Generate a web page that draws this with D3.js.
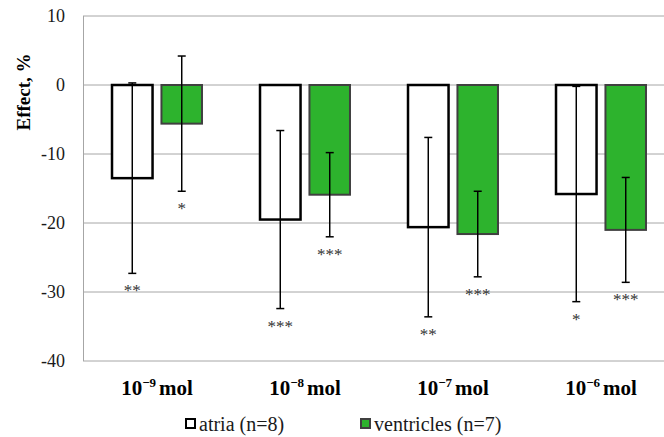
<!DOCTYPE html>
<html><head><meta charset="utf-8">
<script src="https://cdn.jsdelivr.net/npm/d3@7/dist/d3.min.js"></script>
<style>body{margin:0;background:#fff}svg{display:block}
svg text{font-family:"Liberation Serif","Times New Roman",serif}</style>
</head><body>
<svg id="c" width="664" height="437"></svg>
<script>
const categories = ["-9", "-8", "-7", "-6"];
const seriesNames = ["atria (n=8)", "ventricles (n=7)"];
const atria = [-13.5, -19.5, -20.6, -15.8];
const atriaSD = [13.8, 12.9, 13.0, 15.6];
const ventricles = [-5.6, -15.9, -21.6, -21.0];
const ventriclesSD = [9.8, 6.1, 6.2, 7.6];
const atriaStars = ["**", "***", "**", "*"];
const ventriclesStars = ["*", "***", "***", "***"];
const yTicks = [10, 0, -10, -20, -30, -40];

(function () {
const svg = d3.select("#c");
const pL = 83, pT = 16, pB = 361, pR = 675;
const y = d3.scaleLinear().domain([-40, 10]).range([pB, pT]);
const x = d3.scaleBand().domain(categories).range([pL, pR]).paddingInner(0.392).paddingOuter(0.196);
const xs = d3.scaleBand().domain([0, 1]).range([0, x.bandwidth()]).paddingInner(0.18);

// gridlines
svg.append("g").selectAll("line").data(yTicks).join("line")
  .attr("x1", pL).attr("x2", 664).attr("y1", d => y(d)).attr("y2", d => y(d))
  .attr("stroke", "#a6a6a6").attr("stroke-width", 1);
svg.append("line").attr("x1", pL + 0.5).attr("x2", pL + 0.5).attr("y1", pT).attr("y2", pB)
  .attr("stroke", "#a6a6a6");

// y axis labels
const yAxis = d3.axisLeft(y).tickValues(yTicks).tickSize(0).tickPadding(18).tickFormat(d => String(d));
const ga = svg.append("g").attr("transform", `translate(${pL},0)`).call(yAxis);
ga.select(".domain").remove();
ga.attr("font-family", null);
ga.selectAll("text").attr("font-size", 18).attr("fill", "#1a1a1a");

svg.append("text").attr("transform", "translate(30,92) rotate(-90)").attr("text-anchor", "middle")
  .attr("font-size", 19).attr("font-weight", "bold").attr("fill", "#000").text("Effect, %");

const series = [
  {vals: atria, sd: atriaSD, stars: atriaStars, fill: "#ffffff", stroke: "#000000", sw: 2.5},
  {vals: ventricles, sd: ventriclesSD, stars: ventriclesStars, fill: "#2db32d", stroke: "#404040", sw: 2}
];

series.forEach((s, si) => {
  const g = svg.append("g");
  const bx = i => x(categories[i]) + xs(si);
  const bw = xs.bandwidth();
  g.selectAll("rect").data(s.vals).join("rect")
    .attr("x", (d, i) => bx(i)).attr("width", bw)
    .attr("y", d => y(Math.max(0, d))).attr("height", d => Math.abs(y(d) - y(0)))
    .attr("fill", s.fill).attr("stroke", s.stroke).attr("stroke-width", s.sw);
  const eb = g.selectAll("g.eb").data(s.vals).join("g").attr("class", "eb");
  eb.append("line").attr("x1", (d, i) => bx(i) + bw / 2).attr("x2", (d, i) => bx(i) + bw / 2)
    .attr("y1", (d, i) => y(d + s.sd[i])).attr("y2", (d, i) => y(d - s.sd[i]))
    .attr("stroke", "#000").attr("stroke-width", 1.5);
  [1, -1].forEach(sg => {
    eb.append("line").attr("x1", (d, i) => bx(i) + bw / 2 - 4).attr("x2", (d, i) => bx(i) + bw / 2 + 4)
      .attr("y1", (d, i) => y(d + sg * s.sd[i])).attr("y2", (d, i) => y(d + sg * s.sd[i]))
      .attr("stroke", "#000").attr("stroke-width", 1.5);
  });
  g.selectAll("text.st").data(s.vals).join("text").attr("class", "st")
    .attr("x", (d, i) => bx(i) + bw / 2).attr("y", (d, i) => y(d - s.sd[i]) + 23)
    .attr("text-anchor", "middle").attr("font-size", 17)
    .attr("fill", "#333").text((d, i) => s.stars[i]);
});

// x labels
const xt = svg.append("g").selectAll("text").data(categories).join("text")
  .attr("x", d => x(d) + x.bandwidth() / 2).attr("y", 395).attr("text-anchor", "middle")
  .attr("font-size", 21).attr("font-weight", "bold").attr("fill", "#000");
xt.append("tspan").text("10");
xt.append("tspan").attr("font-size", 13).attr("dy", -8).text(d => d.replace("-", "\u2212"));
xt.append("tspan").attr("dy", 8).attr("dx", 3).text("mol");

// legend
const legX = [185, 360];
const lg = svg.append("g").selectAll("g").data(seriesNames).join("g")
  .attr("transform", (d, i) => `translate(${legX[i]},0)`);
lg.append("rect").attr("x", 1).attr("y", 419).attr("width", 9).attr("height", 9)
  .attr("fill", (d, i) => series[i].fill).attr("stroke", (d, i) => i ? "#404040" : "#000").attr("stroke-width", 2);
lg.append("text").attr("x", 14).attr("y", 431).attr("font-size", 20)
  .attr("fill", "#1a1a1a").text(d => d);
})();
</script>
</body></html>
